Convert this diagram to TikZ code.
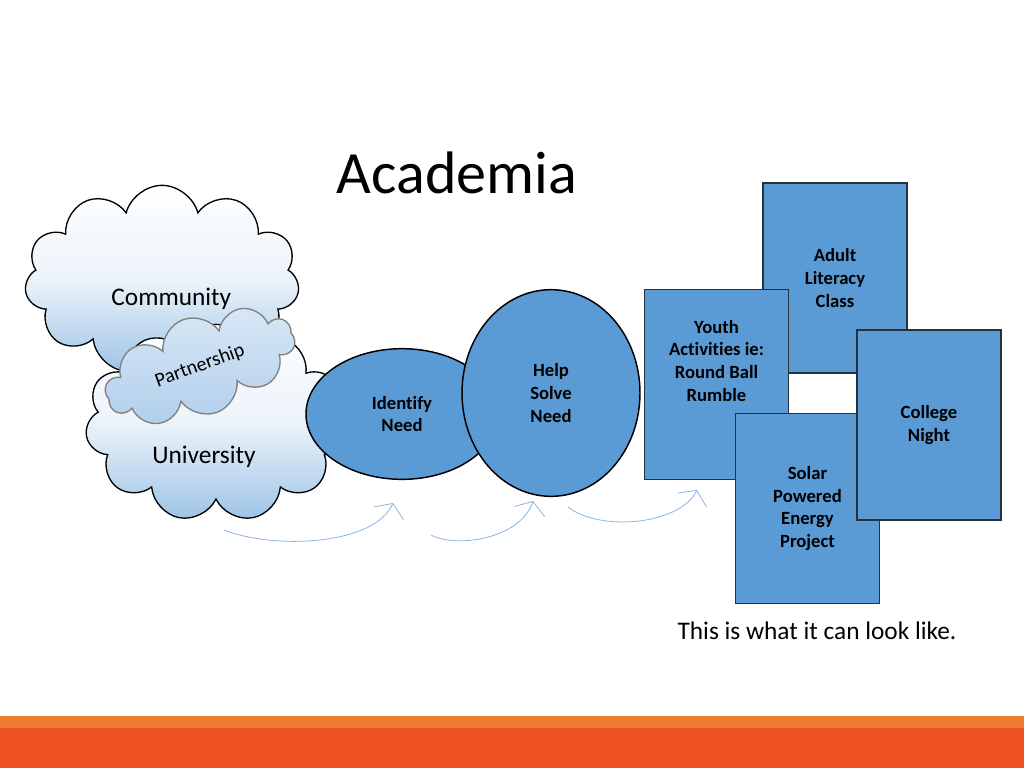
\documentclass[tikz,border=0pt]{standalone}
\usepackage{fontspec}
\setmainfont{Carlito}[Ligatures=NoCommon]
\usetikzlibrary{arrows.meta,shapes.geometric,shapes.symbols}

\definecolor{cardblue}{HTML}{5B9BD5}
\definecolor{cardline}{HTML}{24313F}
\definecolor{cloudblue}{HTML}{9DC3E6}
\definecolor{arrowblue}{HTML}{8DB3E2}
\definecolor{bandorange}{HTML}{ED7D31}
\definecolor{bandred}{HTML}{EE5124}

\begin{document}
\begin{tikzpicture}[
    x=0.75pt, y=-0.75pt,
    puff/.style={cloud, cloud puffs=11, cloud ignores aspect, draw=black, line width=1pt,
      top color=white, bottom color=cloudblue, middle color=white!80!cloudblue, inner sep=0pt},
    cloudtext/.style={font=\fontsize{19}{22}\selectfont},
    bubble/.style={ellipse, draw=black, line width=1.1pt, fill=cardblue, inner sep=0pt,
      align=center, font=\bfseries\fontsize{14}{17}\selectfont},
    card/.style={rectangle, draw=cardline, line width=1.1pt, fill=cardblue, minimum width=108pt,
      minimum height=142.5pt, inner sep=0pt, align=center, font=\bfseries\fontsize{14}{17}\selectfont},
    flow/.style={draw=arrowblue, line width=0.6pt, -{Straight Barb[length=8pt,width=24pt]}}
]
\useasboundingbox (0,0) rectangle (1024,768);

% ---- footer band ----
\fill[bandorange] (0,716) rectangle (1024,728);
\fill[bandred] (0,728) rectangle (1024,768);

\node[font=\fontsize{45}{54}\selectfont] (title) at (457,173) {Academia};

% ---- clouds ----
\node[puff, minimum width=206pt, minimum height=142pt,
  label={[cloudtext, xshift=7pt, yshift=-14pt]center:Community}] (community) at (162,280) {};
\node[puff, minimum width=196pt, minimum height=148pt,
  label={[cloudtext, xshift=-9pt, yshift=-25.5pt]center:University}] (university) at (216,423) {};
\node[puff, cloud puffs=10, draw=gray, top color=white!60!cloudblue, bottom color=cloudblue!80,
  middle color=white!40!cloudblue, minimum width=148pt, minimum height=74pt, rotate=20,
  font=\fontsize{15}{18}\selectfont] (partner) at (200,366) {Partnership};

% ---- steps ----
\node[bubble, minimum width=144pt, minimum height=98pt] (identify) at (402,414) {Identify\\Need};
\node[bubble, minimum width=133.5pt, minimum height=155pt] (solve) at (551,393) {Help\\Solve\\Need};

% ---- projects ----
\node[card] (adult) at (835,278) {Adult\\Literacy\\Class};
\node[card, text depth=36pt] (youth) at (716.5,384.5) {Youth\\Activities ie:\\Round Ball\\Rumble};
\node[card] (solar) at (807.5,508.5) {Solar\\Powered\\Energy\\Project};
\node[card] (college) at (929,425) {College\\Night};

\node[font=\fontsize{19}{22}\selectfont] (caption) at (817,631) {This is what it can look like.};

% arrows
\coordinate (a1s) at (224,530);
\coordinate (a1e) at (393,503);
\coordinate (a2s) at (431,535);
\coordinate (a2e) at (533,501);
\coordinate (a3s) at (568,507);
\coordinate (a3e) at (697,490);

\draw[flow] (a1s) .. controls (275,550) and (375,545) .. (a1e);
\draw[flow] (a2s) .. controls (455,548) and (520,540) .. (a2e);
\draw[flow] (a3s) .. controls (600,532) and (680,525) .. (a3e);

\end{tikzpicture}
\end{document}
